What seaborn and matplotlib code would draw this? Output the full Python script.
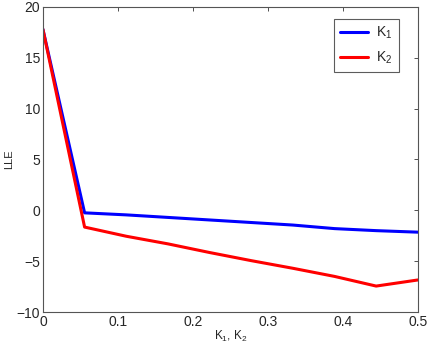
import matplotlib
import numpy as np
import pandas as pd
import seaborn as sns

matplotlib.use('agg')
import matplotlib.pyplot as plt  # noqa

k_values = [0.0, 0.0556, 0.1111, 0.1667, 0.2222, 0.2778, 0.3333, 0.3889, 0.4444, 0.5]
lle_k1 = [17.8, -0.25, -0.45, -0.7, -0.95, -1.2, -1.45, -1.8, -2.0, -2.15]
lle_k2 = [17.8, -1.65, -2.55, -3.3, -4.15, -4.95, -5.7, -6.5, -7.45, -6.85]
series_names = ["K$_1$", "K$_2$"]
x_ticks = [0, 0.1, 0.2, 0.3, 0.4, 0.5]
x_tick_labels = ["0", "0.1", "0.2", "0.3", "0.4", "0.5"]
y_ticks = [-10, -5, 0, 5, 10, 15, 20]

df = pd.DataFrame({
    "k": k_values * 2,
    "lle": lle_k1 + lle_k2,
    "series": [series_names[0]] * len(k_values) + [series_names[1]] * len(k_values),
})

sns.set_style("white")
plt.rcParams['font.family'] = ['Liberation Sans', 'DejaVu Sans']
plt.rcParams['mathtext.fontset'] = 'custom'
plt.rcParams['mathtext.rm'] = 'Liberation Sans'
plt.rcParams['mathtext.it'] = 'Liberation Sans'

fig = plt.figure(figsize=(4.29, 3.44), dpi=100)
ax = fig.add_axes([0.1, 0.093, 0.874, 0.887])

sns.lineplot(data=df, x="k", y="lle", hue="series", palette=["#0000ff", "#ff0000"],
             linewidth=2.2, ax=ax, sort=False)

ax.set_xlim(0, 0.5)
ax.set_ylim(-10, 20)
ax.set_xticks(x_ticks)
ax.set_xticklabels(x_tick_labels)
ax.set_yticks(y_ticks)
ax.tick_params(direction="in", top=True, right=True, length=3, width=0.6,
               labelsize=10, color="#333333", pad=2)
for s in ax.spines.values():
    s.set_color("#555555")
    s.set_linewidth(0.8)

ax.set_xlabel("K$_1$, K$_2$", fontsize=8.5, labelpad=0)
ax.set_ylabel("LLE", fontsize=8, labelpad=2)

leg = ax.legend(loc="upper right", bbox_to_anchor=(0.949, 0.961), borderaxespad=0,
                fontsize=10, handlelength=2.0, frameon=True, fancybox=False,
                borderpad=0.45, labelspacing=0.6, handletextpad=0.6)
leg.get_frame().set_edgecolor("#333333")
leg.get_frame().set_linewidth(0.8)
for line in leg.get_lines():
    line.set_linewidth(2.2)

fig.savefig("out.png", dpi=100)
